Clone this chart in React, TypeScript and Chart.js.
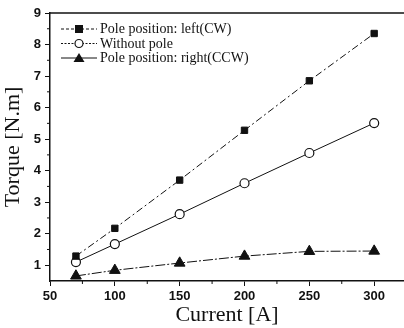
import React, { useEffect, useRef } from 'react';
import { Chart, registerables } from 'chart.js';

Chart.register(...registerables);

const currents = [70, 100, 150, 200, 250, 300];
const poleLeftCW = [1.29, 2.17, 3.7, 5.28, 6.85, 8.35];
const withoutPole = [1.1, 1.67, 2.62, 3.6, 4.56, 5.51];
const poleRightCCW = [0.66, 0.84, 1.07, 1.29, 1.44, 1.45];
const seriesLabels = ['Pole position: left(CW)', 'Without pole', 'Pole position: right(CCW)'];
const xTickValues = [50, 100, 150, 200, 250, 300];
const xMinorValues = [75, 125, 175, 225, 275];
const yTickValues = [1, 2, 3, 4, 5, 6, 7, 8, 9];
const yMinorValues = [1.5, 2.5, 3.5, 4.5, 5.5, 6.5, 7.5, 8.5];

const INK = '#111';

function drawMarker(ctx: CanvasRenderingContext2D, style: string, x: number, y: number) {
  ctx.save();
  ctx.setLineDash([]);
  ctx.lineWidth = 1.2;
  ctx.strokeStyle = INK;
  if (style === 'rect') {
    ctx.fillStyle = INK;
    ctx.fillRect(x - 4, y - 4, 8, 8);
  } else if (style === 'circle') {
    ctx.fillStyle = '#fff';
    ctx.beginPath();
    ctx.arc(x, y, 4, 0, Math.PI * 2);
    ctx.fill();
    ctx.stroke();
  } else {
    ctx.fillStyle = INK;
    ctx.beginPath();
    ctx.moveTo(x, y - 5);
    ctx.lineTo(x + 5.5, y + 4);
    ctx.lineTo(x - 5.5, y + 4);
    ctx.closePath();
    ctx.fill();
  }
  ctx.restore();
}

const framePlugin = {
  id: 'framePlugin',
  afterDraw(chart: any) {
    const { ctx, chartArea } = chart;
    const xs = chart.scales.x;
    const ys = chart.scales.y;
    ctx.save();
    ctx.strokeStyle = INK;
    ctx.lineWidth = 1.5;
    ctx.beginPath();
    ctx.moveTo(chartArea.left, chartArea.top);
    ctx.lineTo(chartArea.right, chartArea.top);
    ctx.stroke();
    ctx.lineWidth = 1;
    ctx.beginPath();
    xMinorValues.forEach((v) => {
      const px = xs.getPixelForValue(v);
      ctx.moveTo(px, chartArea.bottom);
      ctx.lineTo(px, chartArea.bottom + 3);
    });
    yMinorValues.forEach((v) => {
      const py = ys.getPixelForValue(v);
      ctx.moveTo(chartArea.left, py);
      ctx.lineTo(chartArea.left - 3, py);
    });
    ctx.stroke();

    // legend
    const styles = ['rect', 'circle', 'triangle'];
    const dashes = [[3, 2], [2, 1.5], []];
    chart.data.datasets.forEach((ds: any, i: number) => {
      const y = 29 + i * 14.5;
      ctx.save();
      ctx.strokeStyle = INK;
      ctx.lineWidth = 1;
      ctx.setLineDash(dashes[i]);
      ctx.beginPath();
      ctx.moveTo(61, y);
      ctx.lineTo(97, y);
      ctx.stroke();
      ctx.restore();
      drawMarker(ctx, styles[i], 79, y);
      ctx.fillStyle = INK;
      ctx.font = '14px "Liberation Serif"';
      ctx.textBaseline = 'middle';
      ctx.textAlign = 'left';
      ctx.fillText(ds.label, 100, y + 0.5);
    });
    ctx.restore();
  },
};

export default function App() {
  const ref = useRef<HTMLCanvasElement | null>(null);
  useEffect(() => {
    if (!ref.current) return;
    const mk = (vals: number[]) => currents.map((c, i) => ({ x: c, y: vals[i] }));
    const tickFont = { family: '"Liberation Sans", Arial, sans-serif', weight: 'bold' as const, size: 13 };
    const titleFont = { family: '"Liberation Serif", serif', size: 22 };
    const chart = new Chart(ref.current, {
      type: 'line',
      data: {
        datasets: [
          {
            label: seriesLabels[0],
            data: mk(poleLeftCW),
            borderColor: INK,
            borderWidth: 1,
            borderDash: [7, 3, 2, 3],
            pointStyle: 'rect',
            pointRadius: 4.5,
            pointBackgroundColor: INK,
            pointBorderColor: INK,
            fill: false,
          },
          {
            label: seriesLabels[1],
            data: mk(withoutPole),
            borderColor: INK,
            borderWidth: 1,
            pointStyle: 'circle',
            pointRadius: 4.5,
            pointBackgroundColor: '#fff',
            pointBorderColor: INK,
            pointBorderWidth: 1.2,
            fill: false,
          },
          {
            label: seriesLabels[2],
            data: mk(poleRightCCW),
            borderColor: INK,
            borderWidth: 1,
            borderDash: [10, 2, 2, 2],
            pointStyle: 'triangle',
            pointRadius: 6.2,
            pointBackgroundColor: INK,
            pointBorderColor: INK,
            fill: false,
          },
        ],
      },
      options: {
        responsive: false,
        animation: false,
        layout: { autoPadding: false, padding: { top: 13, right: 0, left: 0, bottom: 0 } },
        plugins: { legend: { display: false }, tooltip: { enabled: false } },
        scales: {
          x: {
            type: 'linear',
            min: 50,
            max: 323,
            afterBuildTicks: (s: any) => {
              s.ticks = xTickValues.map((v) => ({ value: v }));
            },
            afterFit: (s: any) => {
              s.height = 47;
              s.paddingRight = 0;
              s.paddingLeft = 0;
            },
            ticks: { font: tickFont, color: INK, padding: 3, maxRotation: 0 },
            grid: { display: true, drawOnChartArea: false, tickLength: 5, color: INK, tickColor: INK },
            border: { display: true, color: INK, width: 1.5 },
            title: { display: true, text: 'Current [A]', font: titleFont, color: INK, padding: 0 },
          },
          y: {
            type: 'linear',
            min: 0.5,
            max: 9,
            afterBuildTicks: (s: any) => {
              s.ticks = yTickValues.map((v) => ({ value: v }));
            },
            afterFit: (s: any) => {
              s.width = 50;
            },
            ticks: { font: tickFont, color: INK, padding: 4 },
            grid: { display: true, drawOnChartArea: false, tickLength: 5, color: INK, tickColor: INK },
            border: { display: true, color: INK, width: 1.5 },
            title: { display: true, text: 'Torque [N.m]', font: titleFont, color: INK, padding: 0 },
          },
        },
      },
      plugins: [framePlugin],
    });
    return () => chart.destroy();
  }, []);
  return (
    <div style={{ position: 'absolute', left: 0, top: 0, width: 404, height: 328, background: '#fff' }}>
      <canvas ref={ref} width={404} height={328} style={{ display: 'block' }} />
    </div>
  );
}
